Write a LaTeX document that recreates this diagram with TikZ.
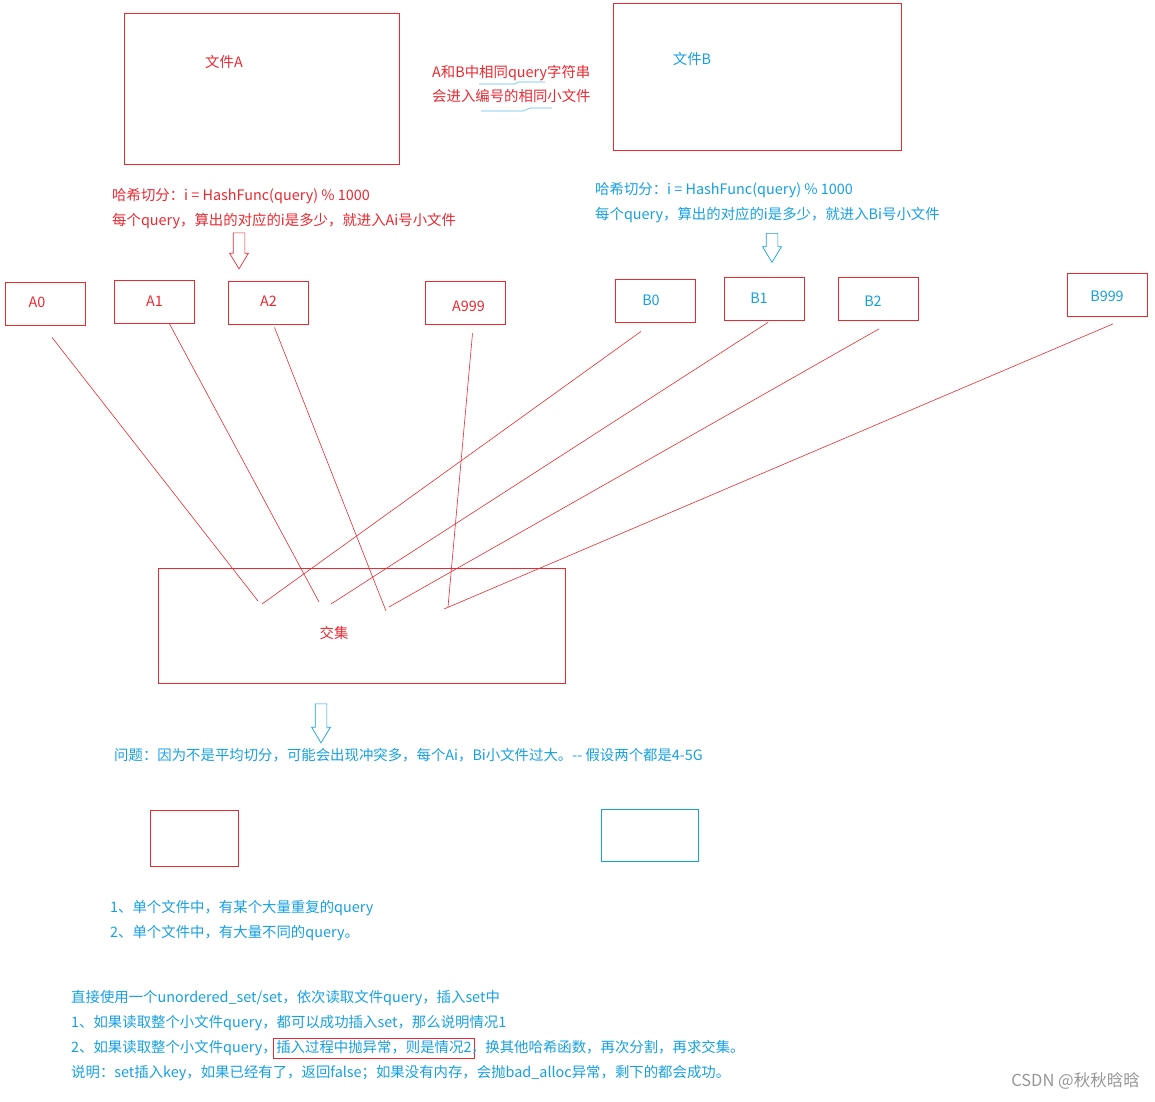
\documentclass[tikz,border=0pt]{standalone}
\usepackage{fontspec}
\setmainfont{Noto Sans CJK SC}
\usetikzlibrary{positioning,calc,shapes.arrows}
\definecolor{hred}{RGB}{236,40,48}
\definecolor{hblue}{RGB}{22,160,226}
\definecolor{hgray}{RGB}{150,150,150}
\tikzset{
  txt/.style={inner sep=0pt, font=\fontsize{14.4}{16}\selectfont, text height=11pt, text depth=3pt},
  redtxt/.style={txt, text=hred},
  bluetxt/.style={txt, text=hblue},
  filebox/.style={draw=hred, line width=0.8pt, inner sep=0pt},
  slot/.style={filebox, minimum width=80pt, minimum height=43pt, txt},
  link/.style={draw=hred, line width=0.6pt},
  hollow/.style={single arrow, draw, line width=0.7pt, inner sep=0pt, text width=11pt, text height=11pt, text depth=0pt,
    minimum width=18pt, single arrow head extend=3.5pt, single arrow tip angle=62, shape border rotate=270},
}
\begin{document}
\begin{tikzpicture}[x=1pt, y=-1pt]
\useasboundingbox (0,0) rectangle (1155,1101);

% two big files
\node[filebox, minimum width=275pt, minimum height=151pt] (fileA) at (261.5,88.5) {};
\node[redtxt] (fileAlbl) at (224,63) {文件A};
\node[filebox, minimum width=288pt, minimum height=147pt] (fileB) at (757,76.5) {};
\node[bluetxt] (fileBlbl) at (692,60) {文件B};
\node[redtxt, anchor=west] (note1) at (432,73) {A和B中相同query字符串};
\node[redtxt, anchor=west] (note2) at (432,97) {会进入编号的相同小文件};
\draw[hblue!70, line width=0.6pt] (479,84) -- (515,84) -- (518,82) -- (545,82);
\draw[hblue!70, line width=0.6pt] (481,111) -- (523,111) -- (530,108) -- (552,108);

% hashing rules
\node[redtxt, anchor=west] (hashA1) at (112,196) {哈希切分：i = HashFunc(query) \% 1000};
\node[redtxt, anchor=west] (hashA2) at (112,221) {每个query，算出的对应的i是多少，就进入Ai号小文件};
\node[bluetxt, anchor=west] (hashB1) at (595,190) {哈希切分：i = HashFunc(query) \% 1000};
\node[bluetxt, anchor=west] (hashB2) at (595,215) {每个query，算出的对应的i是多少，就进入Bi号小文件};
\node[hollow, draw=hred, minimum height=36pt] (arrA) at (239,246) {};
\node[hollow, draw=hblue, minimum height=29pt] (arrB) at (772,243) {};

% small files
\node[slot, label={[redtxt, xshift=-8pt]center:A0}] (A0) at (45,303.5) {};
\node[slot, text=hred] (A1) at (154.5,302) {A1};
\node[slot, text=hred] (A2) at (268.5,302.5) {A2};
\node[slot, label={[redtxt, yshift=-5pt, xshift=3pt]center:A999}] (A999) at (465.5,302.5) {};
\node[slot, label={[bluetxt, xshift=-4pt, yshift=-1pt]center:B0}] (B0) at (655,300.5) {};
\node[slot, label={[bluetxt, xshift=-5pt, yshift=-1pt]center:B1}] (B1) at (764,298.5) {};
\node[slot, label={[bluetxt, xshift=-5pt, yshift=-3pt]center:B2}] (B2) at (878,299) {};
\node[slot, label={[bluetxt, yshift=-2pt]center:B999}] (B999) at (1107,295) {};

% intersection
\node[filebox, minimum width=407pt, minimum height=115pt] (join) at (361.5,625.5) {};
\node[redtxt] (joinlbl) at (334,634) {交集};
\foreach \s/\dx/\dy/\ex/\ey in {A0/7/12/258/601, A1/15/0/319/602, A2/6/3/386/611, A999/7/9/448/607,
    B0/-14/9/262/604, B1/4/2/331/604, B2/1/8/389/607, B999/6/7/444/609}{
  \coordinate (J-\s) at (\ex,\ey);
  \draw[link] ([shift={(\dx,\dy)}]\s.south) -- (J-\s);
}

% problem
\node[hollow, draw=hblue, minimum height=39pt] (arrC) at (321,718.5) {};
\node[bluetxt, anchor=west] (issue) at (114,756) {问题：因为不是平均切分，可能会出现冲突多，每个Ai，Bi小文件过大。-{}- 假设两个都是4-5G};
\node[filebox, minimum width=88pt, minimum height=56pt] (boxR) at (194,838) {};
\node[filebox, draw=hblue, minimum width=97pt, minimum height=52pt] (boxB) at (649.5,835) {};
\node[bluetxt, anchor=west] (case1) at (110,908) {1、单个文件中，有某个大量重复的query};
\node[bluetxt, anchor=west] (case2) at (110,933) {2、单个文件中，有大量不同的query。};

% solution
\node[bluetxt, anchor=west] (sol0) at (71,998) {直接使用一个unordered\_set/set，依次读取文件query，插入set中};
\node[bluetxt, anchor=west] (sol1) at (71,1023) {1、如果读取整个小文件query，都可以成功插入set，那么说明情况1};
\node[bluetxt, anchor=west] (sol2a) at (71,1048) {2、如果读取整个小文件query，};
\node[bluetxt, draw=hred, line width=0.7pt, inner sep=3pt, right=-4pt of sol2a] (sol2b) {插入过程中抛异常，则是情况2};
\node[bluetxt, right=-4pt of sol2b] (sol2c) {，换其他哈希函数，再次分割，再求交集。};
\node[bluetxt, anchor=west] (sol3) at (71,1073) {说明：set插入key，如果已经有了，返回false；如果没有内存，会抛bad\_alloc异常，剩下的都会成功。};
\node[txt, text=hgray, font=\fontsize{16.5}{18}\selectfont, anchor=east] (mark) at (1140,1082) {CSDN @秋秋晗晗};
\end{tikzpicture}
\end{document}
